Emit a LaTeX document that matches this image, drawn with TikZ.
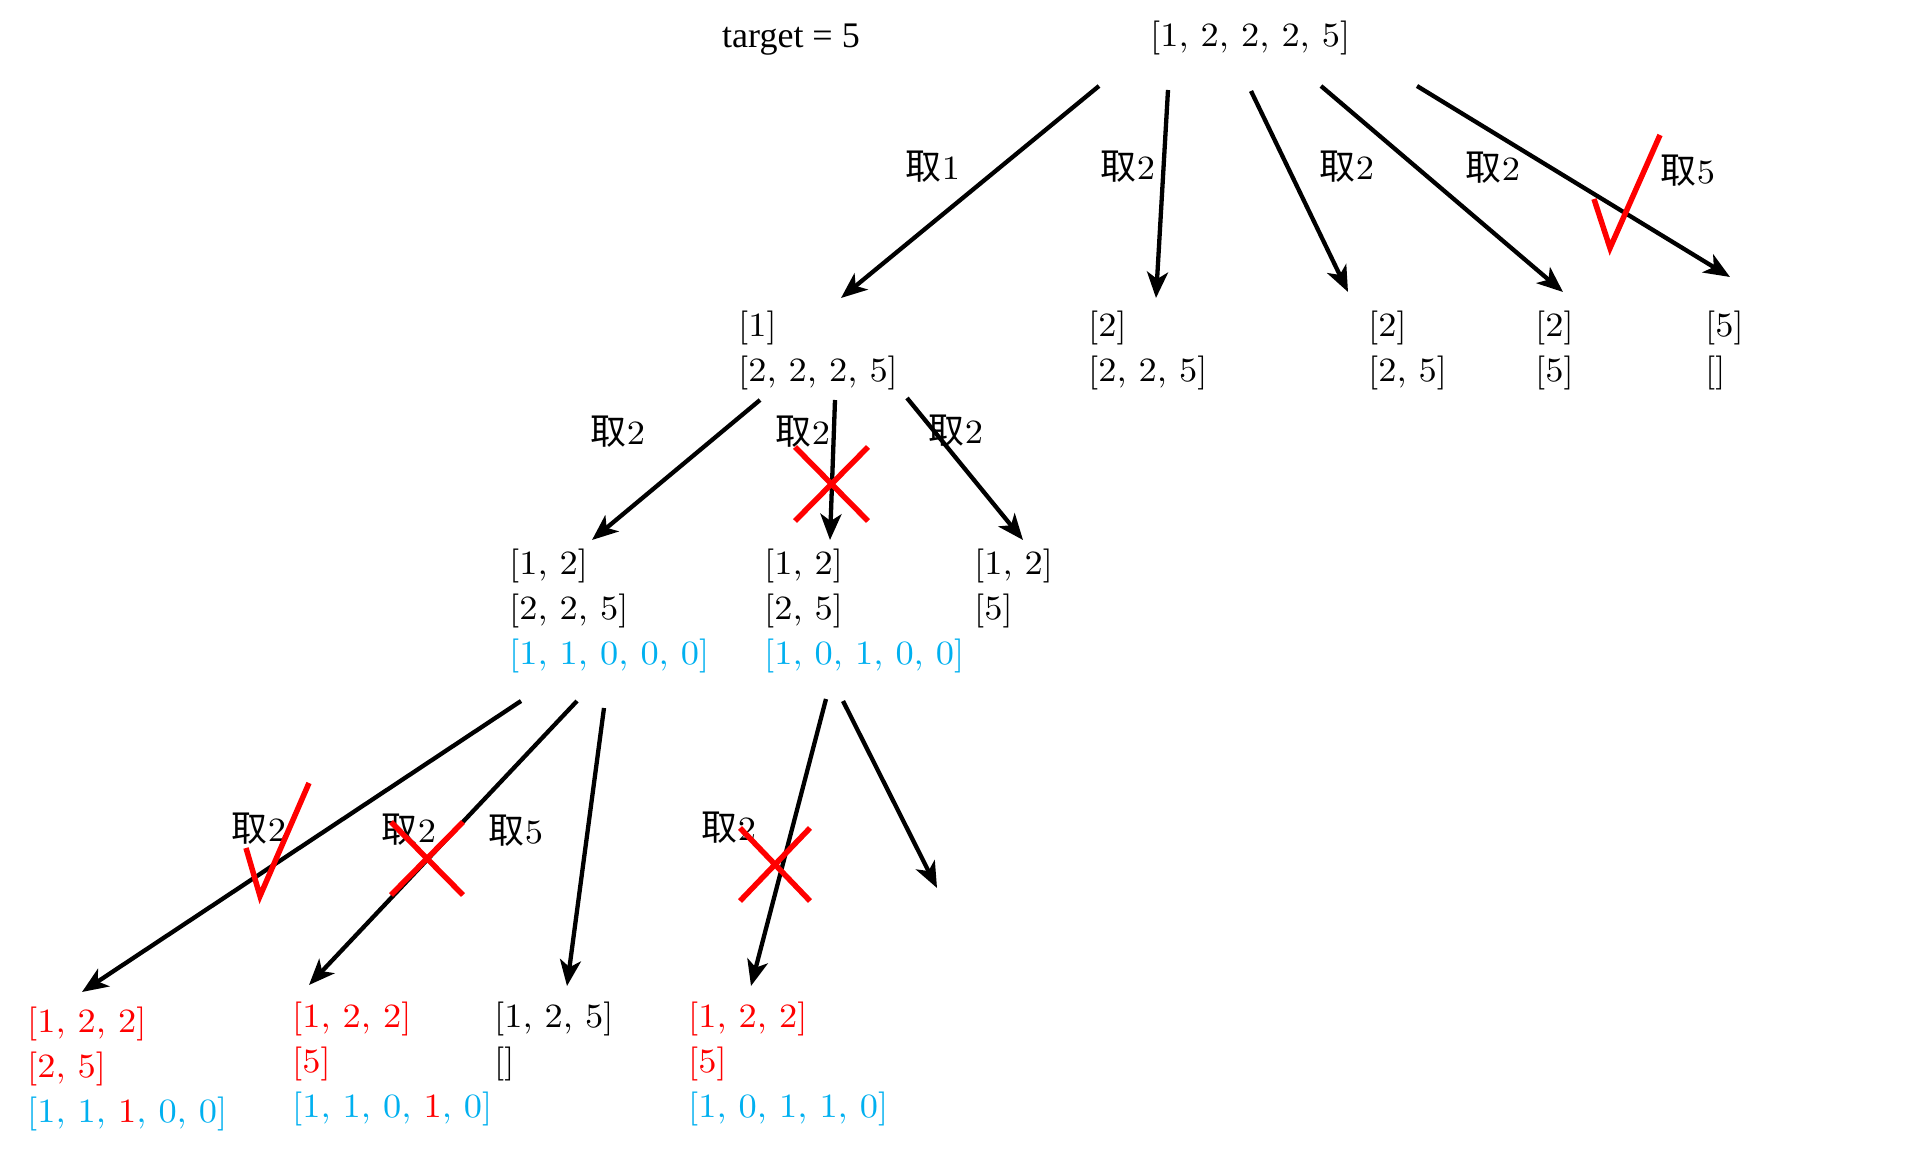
\documentclass[tikz,border=0pt]{standalone}
\usepackage{fontspec}
\setmainfont{lmroman10-regular.otf}[FakeStretch=1.07]
\newfontfamily\cjk{Noto Sans CJK SC}
\newfontfamily\timesf{Liberation Serif}
\usetikzlibrary{arrows.meta}
\definecolor{lb}{HTML}{00B0F0}
\definecolor{rd}{HTML}{FF0000}
\tikzset{
  lst/.style={anchor=north west, inner sep=0pt, align=left, font=\fontsize{34}{45}\selectfont},
  lbl/.style={inner sep=0pt, font=\fontsize{34}{44}\selectfont},
  arr/.style={line width=4.3pt, -{Stealth[length=26pt,width=21pt,inset=7pt]}},
  redmk/.style={draw=rd, line width=5.5pt},
}
\newcommand{\qu}[1]{{\cjk\fontsize{36}{44}\selectfont 取}#1}
\newcommand{\nl}{\\\relax}
\begin{document}
\begin{tikzpicture}[x=1pt,y=-1pt]
\useasboundingbox[fill=white] (0,0) rectangle (1925,1158);

% top texts
\node[anchor=base west, inner sep=0pt, font=\timesf\fontsize{36}{44}\selectfont] (tg) at (722,48) {target = 5};
\node[anchor=base west, inner sep=0pt, font=\fontsize{34}{44}\selectfont] (root) at (1150,47) {[1, 2, 2, 2, 5]};

% level 1
\node[lst] (a1) at (738,311) {[1]\nl[2, 2, 2, 5]};
\node[lst] (a2) at (1088,311) {[2]\nl[2, 2, 5]};
\node[lst] (a3) at (1368,311) {[2]\nl[2, 5]};
\node[lst] (a4) at (1535,311) {[2]\nl[5]};
\node[lst] (a5) at (1705,311) {[5]\nl[]};

% level 2
\node[lst] (b1) at (509,549) {[1, 2]\nl[2, 2, 5]\nl\textcolor{lb}{[1, 1, 0, 0, 0]}};
\node[lst] (b2) at (764,549) {[1, 2]\nl[2, 5]\nl\textcolor{lb}{[1, 0, 1, 0, 0]}};
\node[lst] (b3) at (974,549) {[1, 2]\nl[5]};

% level 3
\node[lst] (c1) at (27,1007) {\textcolor{rd}{[1, 2, 2]}\nl\textcolor{rd}{[2, 5]}\nl\textcolor{lb}{[1, 1, }\textcolor{rd}{1}\textcolor{lb}{, 0, 0]}};
\node[lst] (c2) at (292,1002) {\textcolor{rd}{[1, 2, 2]}\nl\textcolor{rd}{[5]}\nl\textcolor{lb}{[1, 1, 0, }\textcolor{rd}{1}\textcolor{lb}{, 0]}};
\node[lst] (c3) at (494,1002) {[1, 2, 5]\nl[]};
\node[lst] (c4) at (688,1002) {\textcolor{rd}{[1, 2, 2]}\nl\textcolor{rd}{[5]}\nl\textcolor{lb}{[1, 0, 1, 1, 0]}};

% arrow end points
\coordinate (r1s) at (1099,86);  \coordinate (r1e) at (841,298);
\coordinate (r2s) at (1168,90);  \coordinate (r2e) at (1156,298);
\coordinate (r3s) at (1251,91);  \coordinate (r3e) at (1348,292);
\coordinate (r4s) at (1321,86);  \coordinate (r4e) at (1563,292);
\coordinate (r5s) at (1417,86);  \coordinate (r5e) at (1730,277);
\coordinate (p1s) at (760,400);  \coordinate (p1e) at (592,540);
\coordinate (p2s) at (835,400);  \coordinate (p2e) at (830,540);
\coordinate (p3s) at (907,398);  \coordinate (p3e) at (1023,540);
\coordinate (q1s) at (521,701);  \coordinate (q1e) at (82,992);
\coordinate (q2s) at (577,701);  \coordinate (q2e) at (309,985);
\coordinate (q3s) at (604,708);  \coordinate (q3e) at (567,986);
\coordinate (s1s) at (826,699);  \coordinate (s1e) at (751,986);
\coordinate (s2s) at (843,701);  \coordinate (s2e) at (937,888);

\foreach \a in {r1,r2,r3,r4,r5,p1,p2,p3,q1,q2,q3,s1,s2}
  \draw[arr] (\a s) -- (\a e);

% labels
\node[lbl] (l1) at (933,167) {\qu{1}};
\node[lbl] (l2) at (1128,167) {\qu{2}};
\node[lbl] (l3) at (1347,167) {\qu{2}};
\node[lbl] (l4) at (1493,168) {\qu{2}};
\node[lbl] (l5) at (1688,171) {\qu{5}};
\node[lbl] (l6) at (618,432) {\qu{2}};
\node[lbl] (l7) at (803,432) {\qu{2}};
\node[lbl] (l8) at (956,431) {\qu{2}};
\node[lbl] (l9) at (259,829) {\qu{2}};
\node[lbl] (l10) at (409,830) {\qu{2}};
\node[lbl] (l11) at (516,831) {\qu{5}};
\node[lbl] (l12) at (729,828) {\qu{2}};

% check marks
\draw[redmk] (1594,199) -- (1610,248) -- (1660,135);
\draw[redmk] (246,848) -- (260,896) -- (309,783);

% crosses
\draw[redmk] (795,447) -- (868,521) (868,447) -- (795,521);
\draw[redmk] (391,822) -- (463,895) (463,822) -- (391,895);
\draw[redmk] (740,828) -- (810,901) (810,828) -- (740,901);
\end{tikzpicture}
\end{document}
